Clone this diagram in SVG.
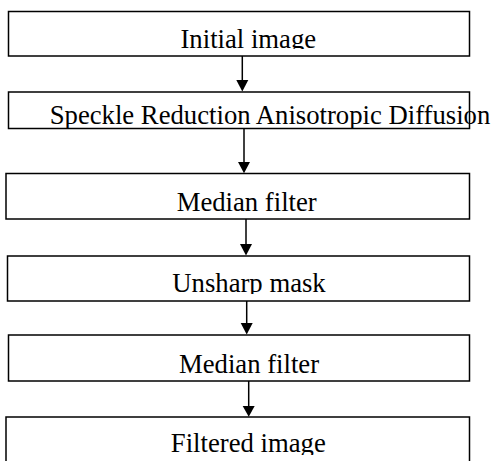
<svg xmlns="http://www.w3.org/2000/svg" width="494" height="461" viewBox="0 0 494 461">
<style>
.box{fill:#fff;stroke:#000;stroke-width:1.5}
.lbl{font-family:"Liberation Serif","Times New Roman",serif;font-size:26.7px;fill:#000;text-anchor:middle}
.conn line{stroke:#000;stroke-width:1.5}
.conn polygon{fill:#000}
</style>
<defs>
<clipPath id="c1"><rect x="0" y="11" width="494" height="38"/></clipPath>
<clipPath id="c2"><rect x="0" y="92" width="494" height="36.5"/></clipPath>
<clipPath id="c4"><rect x="0" y="256" width="494" height="38"/></clipPath>
<clipPath id="c6"><rect x="0" y="417" width="494" height="38"/></clipPath>
</defs>
<rect width="494" height="461" fill="#fff"/>
<g id="n1"><rect class="box" x="8.5" y="11.5" width="461" height="44.5"/><text class="lbl" x="248.3" y="47.5" clip-path="url(#c1)">Initial image</text></g>
<g id="n2"><rect class="box" x="8.5" y="92" width="461" height="36.5"/><text class="lbl" x="270" y="124" clip-path="url(#c2)">Speckle Reduction Anisotropic Diffusion</text></g>
<g id="n3"><rect class="box" x="6" y="173.5" width="463.5" height="45.5"/><text class="lbl" x="246.7" y="211">Median filter</text></g>
<g id="n4"><rect class="box" x="7.5" y="256" width="462" height="45"/><text class="lbl" x="249" y="292" clip-path="url(#c4)">Unsharp mask</text></g>
<g id="n5"><rect class="box" x="8.5" y="335" width="461" height="46"/><text class="lbl" x="249" y="372.7">Median filter</text></g>
<g id="n6"><rect class="box" x="6" y="417" width="463.5" height="60"/><text class="lbl" x="248.3" y="452" clip-path="url(#c6)">Filtered image</text></g>
<g id="connectors" class="conn">
<line x1="242.3" y1="56" x2="242.3" y2="82"/><polygon points="236.3,80 248.3,80 242.3,91.5"/>
<line x1="244" y1="128.5" x2="244" y2="164"/><polygon points="238,162 250,162 244,173.3"/>
<line x1="246" y1="219" x2="246" y2="246"/><polygon points="240,244 252,244 246,255.5"/>
<line x1="246.7" y1="301" x2="246.7" y2="325"/><polygon points="240.7,323 252.7,323 246.7,334.5"/>
<line x1="248.7" y1="381" x2="248.7" y2="408"/><polygon points="242.7,406 254.7,406 248.7,416.8"/>
</g>
</svg>
